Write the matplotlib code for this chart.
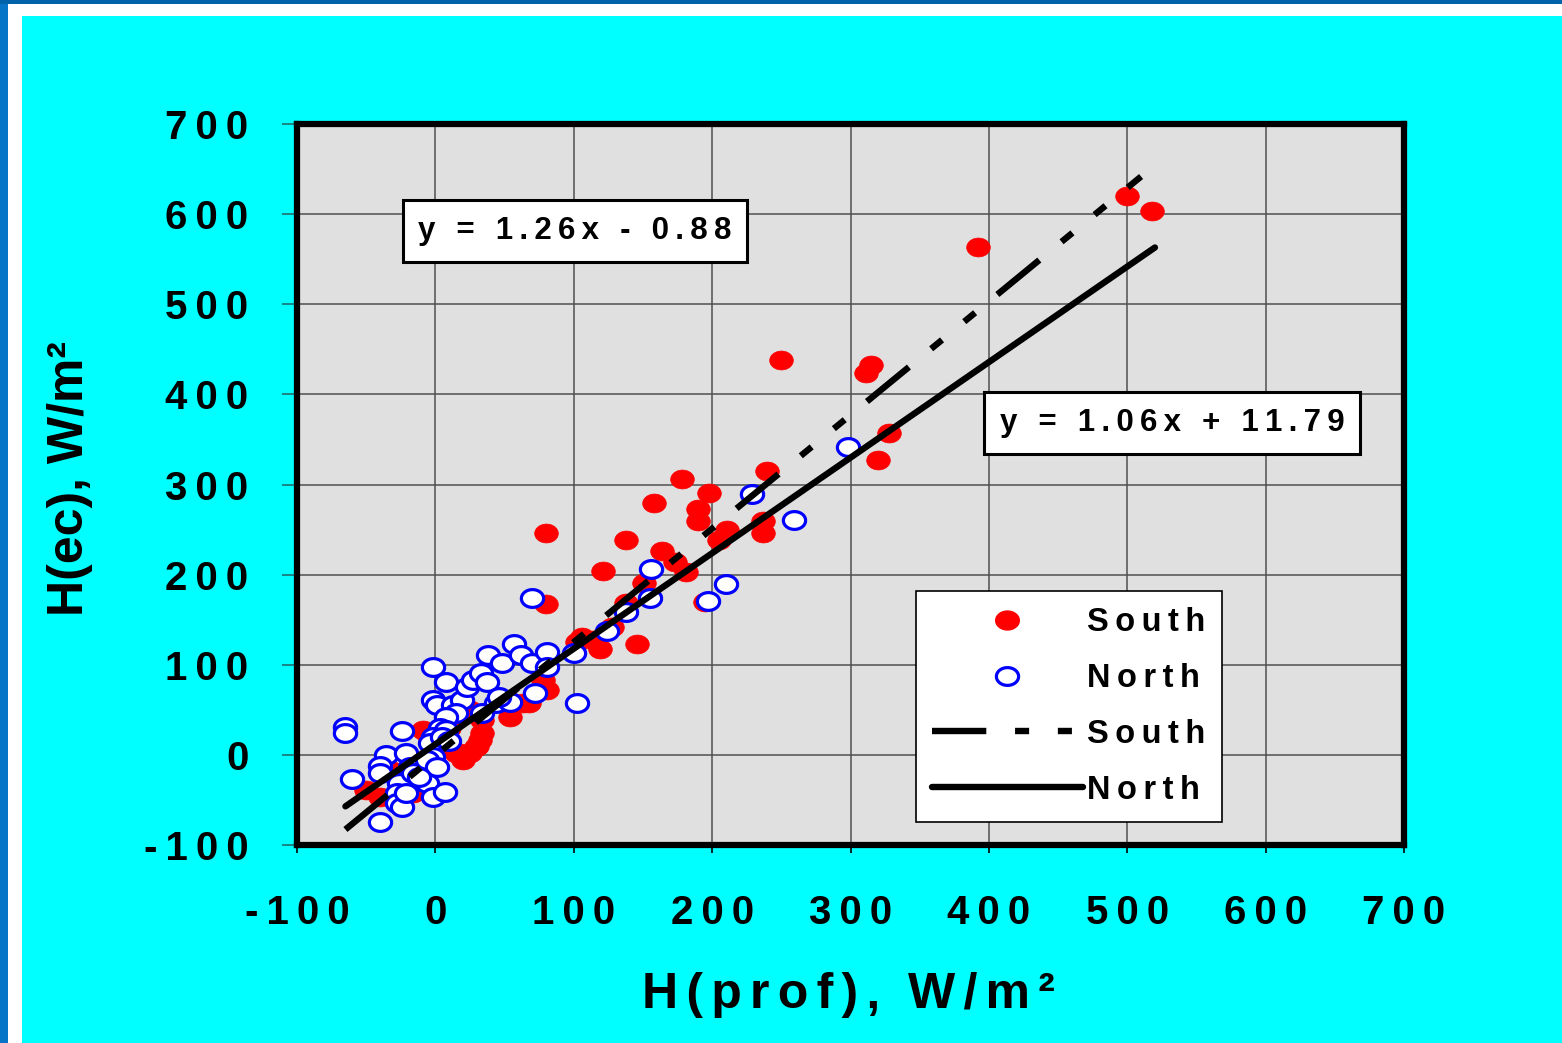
import numpy as np
import matplotlib
matplotlib.use("Agg")
import matplotlib.pyplot as plt
from matplotlib.path import Path
from matplotlib.lines import Line2D
from matplotlib.patches import Rectangle
from matplotlib.ticker import FuncFormatter

plt.rcParams['font.family'] = ['Liberation Sans', 'DejaVu Sans']
plt.rcParams['font.weight'] = 'bold'
plt.rcParams['axes.unicode_minus'] = False

# South (red, filled)
south_x = [500, 518, 392, 250, 315, 311, 328, 320, 240, 178, 198, 158, 190, 190,
           237, 211, 237, 205, 80, 138, 164, 121, 151, 181, 173, 80, 138, 128,
           119, 146, 102, 195, 114, 106, 78, 81, 68, 63, 54, 32, 29, 25, 18, 15,
           -6, -9, 3, -50, -40, 34, 20, 30, 25, 34, -16, -33, 10, 0]
south_y = [620, 603, 564, 438, 433, 424, 357, 327, 315, 306, 291, 280, 273, 259,
           259, 249, 246, 238, 246, 238, 226, 204, 191, 203, 214, 167, 168, 142,
           117, 123, 125, 170, 128, 131, 83, 72, 58, 58, 42, 17, 9, 2, 2, 2,
           24, 28, 13, -39, -47, 24, -6, 10, 50, 39, -42, -17, 30, 15]

# North (blue, open)
north_x = [-65, -65, -60, -40, -24, -36, -40, -40, -21, -18, -26, -28, -28, -24,
           -21, -16, -10, -6, -2, 7, -2, -2, 1, 8, 13, 19, 15, 8, 3, 8, -2, -4,
           -2, -6, 1, 23, 27, 33, 37, 38, 48, 57, 62, 70, 81, 81, 100, 102, 72,
           44, 54, 34, 46, 70, 156, 155, 138, 124, 197, 210, 229, 259, 298, 5,
           10, -12]
north_y = [31, 24, -27, -75, 27, 0, -12, -20, 2, -13, -31, -42, -53, -58, -42,
           -20, -28, -31, -47, -41, 97, 61, 55, 81, 55, 61, 47, 42, 30, 28, 20,
           13, -2, -6, -13, 75, 83, 91, 81, 111, 102, 123, 111, 102, 114, 98,
           113, 58, 69, 58, 59, 47, 64, 174, 206, 174, 158, 138, 171, 190, 289,
           261, 342, 20, 15, -25]

# trend lines
south_fit = (1.26, -0.88)
north_fit = (1.06, 11.79)
south_range = [-65, 510]
north_range = [-65, 520]

ticks = np.arange(-100, 701, 100)


def spaced(s, sep='\u2009'):
    return sep.join(s)


fig = plt.figure(figsize=(15.62, 10.43), dpi=100)
fig.patch.set_facecolor('#00FFFF')
W, H = 1562, 1043
# frame strips on left and top
fig.patches.append(Rectangle((0, 0), 22 / W, 1, transform=fig.transFigure,
                             facecolor='white', edgecolor='none', zorder=0))
fig.patches.append(Rectangle((0, 1 - 16 / H), 1, 16 / H, transform=fig.transFigure,
                             facecolor='white', edgecolor='none', zorder=0))
fig.patches.append(Rectangle((0, 0), 8 / W, 1, transform=fig.transFigure,
                             facecolor='#0675C8', edgecolor='none', zorder=1))
fig.patches.append(Rectangle((0, 1 - 4 / H), 1, 4 / H, transform=fig.transFigure,
                             facecolor='#0062A8', edgecolor='none', zorder=1))

ax = fig.add_axes([297 / W, 1 - 845 / H, (1404 - 297) / W, (845 - 124) / H])
ax.set_facecolor('#E0E0E0')

t = np.linspace(0, 2 * np.pi, 80)
ellipse = Path(np.column_stack([np.cos(t), 0.8 * np.sin(t)]))

ax.plot(south_x, south_y, ls='none', marker=ellipse, ms=17, mfc='#FF0000',
        mec='#FF0000', mew=0.5, zorder=3)
ax.plot(north_x, north_y, ls='none', marker=ellipse, ms=16, mfc='white',
        mec='#0000FF', mew=2.3, zorder=4)

dash = (8.5, 4.5, 2.2, 4.5, 2.2, 4.5)
sx = np.array(south_range)
ax.plot(sx, south_fit[0] * sx + south_fit[1], color='black', lw=4.6,
        dashes=dash, dash_capstyle='butt', zorder=5)
nx = np.array(north_range)
ax.plot(nx, north_fit[0] * nx + north_fit[1], color='black', lw=4.6,
        solid_capstyle='round', zorder=5)

ax.set_xlim(-100, 700)
ax.set_ylim(-100, 700)
ax.set_xticks(ticks)
ax.set_yticks(ticks)
fmt = FuncFormatter(lambda v, p: spaced('%d' % v))
ax.xaxis.set_major_formatter(fmt)
ax.yaxis.set_major_formatter(fmt)
ax.grid(True, color='#505050', lw=1.1)
ax.set_axisbelow(True)
for s in ax.spines.values():
    s.set_linewidth(4.5)
    s.set_color('black')
ax.tick_params(axis='y', direction='out', length=11, width=1.2, pad=24,
               labelsize=29, color='#207070')
ax.tick_params(axis='x', direction='out', length=6, width=1.2, pad=29,
               labelsize=29)

fig.text(848 / W, 1 - 995 / H,
         spaced('H(prof),', '\u200a\u200a') + '  ' + spaced('W/m\u00b2', '\u200a\u200a'),
         ha='center', va='center', fontsize=36, fontweight='bold')
fig.text(70 / W, 1 - 478 / H, 'H(ec), W/m\u00b2', rotation=90, ha='center',
         va='center', fontsize=36, fontweight='bold')

box = dict(boxstyle='square,pad=0.5', facecolor='white', edgecolor='black', lw=2.2)
ax.text((575 - 297) / 1107, (845 - 231) / 721, spaced('y = 1.26x - 0.88'),
        transform=ax.transAxes, ha='center', va='center', fontsize=22.5, bbox=box, zorder=6)
ax.text((1172 - 297) / 1107, (845 - 423) / 721, spaced('y = 1.06x + 11.79'),
        transform=ax.transAxes, ha='center', va='center', fontsize=22.5, bbox=box, zorder=6)

handles = [
    Line2D([], [], ls='none', marker=ellipse, ms=17, mfc='#FF0000', mec='#FF0000'),
    Line2D([], [], ls='none', marker=ellipse, ms=16, mfc='white', mec='#0000FF', mew=2.3),
    Line2D([], [], color='black', lw=4.6, dashes=dash, dash_capstyle='butt'),
    Line2D([], [], color='black', lw=4.6, solid_capstyle='round'),
]
labels = [spaced('South'), spaced('North'), spaced('South'), spaced('North')]
leg = ax.legend(handles, labels, loc='lower right',
                bbox_to_anchor=((1222 - 297) / 1107, (845 - 822) / 721),
                borderaxespad=0, fontsize=23.5, handlelength=4.6, handletextpad=0.15,
                labelspacing=0.76, borderpad=0.5, fancybox=False, framealpha=1,
                edgecolor='black')
leg.get_frame().set_linewidth(1.2)
leg.set_zorder(7)

fig.savefig('out.png', dpi=100, facecolor=fig.get_facecolor())
